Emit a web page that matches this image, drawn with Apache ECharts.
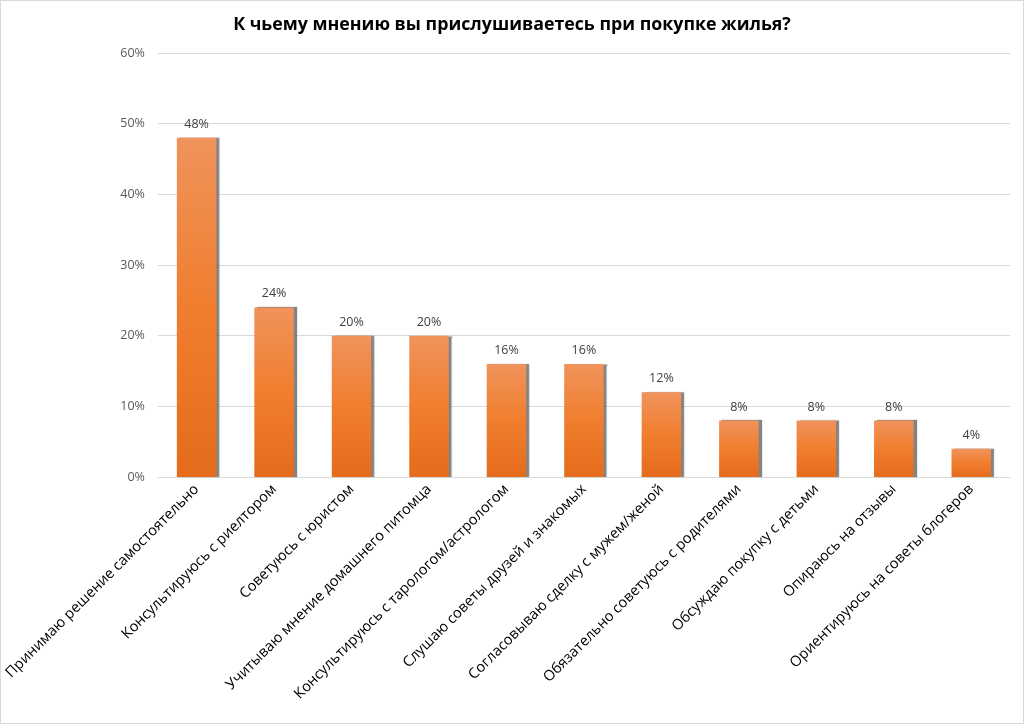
<!DOCTYPE html>
<html><head><meta charset="utf-8">
<script src="https://cdn.jsdelivr.net/npm/echarts@6/dist/echarts.min.js"></script>
<style>html,body{margin:0;padding:0;background:#fff}#c{width:1024px;height:724px;box-sizing:border-box;border:1px solid #d9d9d9}</style>
</head><body><div id="c"></div>
<script>
const categories = ["Принимаю решение самостоятельно","Консультируюсь с риелтором","Советуюсь с юристом","Учитываю мнение домашнего питомца","Консультируюсь с тарологом/астрологом","Слушаю советы друзей и знакомых","Согласовываю сделку с мужем/женой","Обязательно советуюсь с родителями","Обсуждаю покупку с детьми","Опираюсь на отзывы","Ориентируюсь на советы блогеров"];
const values = [48,24,20,20,16,16,12,8,8,8,4];
const title = "К чьему мнению вы прислушиваетесь при покупке жилья?";
const chart = echarts.init(document.getElementById('c'));
chart.setOption({
  animation:false,
  title:{text:title,left:'center',top:10,textStyle:{fontFamily:'Open Sans',fontWeight:'bold',fontSize:17.8,color:'#000'}},
  grid:{left:156,right:13,top:52,bottom:246},
  xAxis:{type:'category',data:categories,axisTick:{show:false},axisLine:{lineStyle:{color:'#d9d9d9'}},
    axisLabel:{rotate:45,interval:0,fontFamily:'Open Sans',fontSize:14.6,color:'#000',margin:10}},
  yAxis:{type:'value',min:0,max:60,interval:10,axisLine:{show:false},axisTick:{show:false},
    splitLine:{lineStyle:{color:'#d9d9d9'}},
    axisLabel:{formatter:'{value}%',fontFamily:'Open Sans',fontSize:12.5,color:'#595959',margin:13}},
  series:[{type:'bar',data:values,barWidth:'51%',
    itemStyle:{color:new echarts.graphic.LinearGradient(0,0,0,1,[{offset:0,color:'#F0935C'},{offset:0.5,color:'#F07E2E'},{offset:1,color:'#E46C1C'}]),
      shadowColor:'rgba(90,90,90,0.75)',shadowOffsetX:3,shadowOffsetY:0,shadowBlur:1},
    label:{show:true,position:'top',formatter:'{c}%',fontFamily:'Open Sans',fontSize:12.5,color:'#404040',distance:7}}]
});
</script></body></html>
